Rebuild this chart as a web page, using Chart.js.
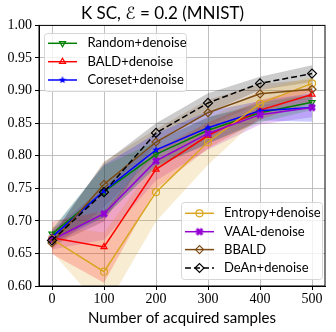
<!DOCTYPE html>
<html>
<head>
<meta charset="utf-8">
<script src="https://cdn.jsdelivr.net/npm/chart.js@4.4.1/dist/chart.umd.min.js"></script>
<style>
    html, body { margin: 0; padding: 0; background: #fff; }
</style>
</head>
<body>
<canvas id="chart" width="336" height="332"></canvas>
<script>
"use strict";

// DATA
const SAMPLES = [0, 100, 200, 300, 400, 500];
const Y_TICKS = [0.60, 0.65, 0.70, 0.75, 0.80, 0.85, 0.90, 0.95, 1.00];

const RANDOM_MEAN = [0.680, 0.745, 0.802, 0.839, 0.866, 0.882];
const RANDOM_STD = [0.008, 0.040, 0.020, 0.020, 0.015, 0.012];
const BALD_MEAN = [0.674, 0.660, 0.779, 0.831, 0.870, 0.894];
const BALD_STD = [0.025, 0.055, 0.030, 0.020, 0.015, 0.012];
const CORESET_MEAN = [0.675, 0.746, 0.809, 0.843, 0.869, 0.874];
const CORESET_STD = [0.010, 0.040, 0.025, 0.025, 0.015, 0.022];
const ENTROPY_MEAN = [0.672, 0.622, 0.744, 0.821, 0.880, 0.911];
const ENTROPY_STD = [0.020, 0.060, 0.045, 0.035, 0.020, 0.010];
const VAAL_MEAN = [0.671, 0.711, 0.792, 0.834, 0.863, 0.874];
const VAAL_STD = [0.015, 0.040, 0.030, 0.025, 0.015, 0.015];
const BBALD_MEAN = [0.666, 0.756, 0.821, 0.866, 0.895, 0.902];
const BBALD_STD = [0.010, 0.035, 0.020, 0.020, 0.015, 0.015];
const DEAN_MEAN = [0.670, 0.744, 0.835, 0.881, 0.911, 0.926];
const DEAN_STD = [0.008, 0.045, 0.015, 0.015, 0.010, 0.013];

const SANS = "Lato, 'DejaVu Sans', sans-serif";
const SERIF = "'Liberation Serif', 'DejaVu Serif', serif";

function rgba(rgb, a) {
    return `rgba(${rgb[0]},${rgb[1]},${rgb[2]},${a})`;
}

// small filled marker images (star / X) that Chart.js has no style for
function markerCanvas(kind, color, r) {
    const size = Math.ceil(r * 2 + 2);
    const c = document.createElement("canvas");
    c.width = size;
    c.height = size;
    const ctx = c.getContext("2d");
    const cx = size / 2;
    const cy = size / 2;
    ctx.fillStyle = color;
    ctx.beginPath();
    if (kind === "star") {
        for (let i = 0; i < 10; i++) {
            const rad = i % 2 === 0 ? r : r * 0.42;
            const a = -Math.PI / 2 + i * Math.PI / 5;
            ctx.lineTo(cx + rad * Math.cos(a), cy + rad * Math.sin(a));
        }
    }
    else {
        const w = r * 0.38;
        ctx.save();
        ctx.translate(cx, cy);
        ctx.rotate(Math.PI / 4);
        ctx.rect(-r, -w, 2 * r, 2 * w);
        ctx.rect(-w, -r, 2 * w, 2 * r);
        ctx.restore();
    }
    ctx.closePath();
    ctx.fill();
    return c;
}

const SERIES = [
    { label: "Random+denoise", mean: RANDOM_MEAN, std: RANDOM_STD, rgb: [0, 128, 0], style: "triangle", rotation: 180, radius: 3.5, open: true, legend: 0 },
    { label: "BALD+denoise", mean: BALD_MEAN, std: BALD_STD, rgb: [255, 0, 0], style: "triangle", rotation: 0, radius: 3.5, open: true, legend: 0 },
    { label: "Coreset+denoise", mean: CORESET_MEAN, std: CORESET_STD, rgb: [0, 0, 255], style: "star", radius: 4, open: false, legend: 0 },
    { label: "Entropy+denoise", mean: ENTROPY_MEAN, std: ENTROPY_STD, rgb: [218, 165, 32], style: "circle", radius: 3.5, open: true, legend: 1 },
    { label: "VAAL-denoise", mean: VAAL_MEAN, std: VAAL_STD, rgb: [148, 0, 211], style: "x", radius: 4, open: false, legend: 1 },
    { label: "BBALD", mean: BBALD_MEAN, std: BBALD_STD, rgb: [125, 75, 20], style: "rectRot", rotation: 0, radius: 4, open: true, legend: 1 },
    { label: "DeAn+denoise", mean: DEAN_MEAN, std: DEAN_STD, rgb: [0, 0, 0], style: "rectRot", rotation: 0, radius: 4.5, open: true, dash: [6, 3], legend: 1 }
];

for (const s of SERIES) {
    const col = rgba(s.rgb, 1);
    if (s.style === "star" || s.style === "x") {
        s.pointStyle = markerCanvas(s.style, col, s.radius);
    }
    else {
        s.pointStyle = s.style;
    }
}

const datasets = [];
SERIES.forEach((s, i) => {
    const lower = SAMPLES.map((x, k) => ({ x, y: s.mean[k] - s.std[k] }));
    const upper = SAMPLES.map((x, k) => ({ x, y: s.mean[k] + s.std[k] }));
    datasets.push({
        label: "_band_lo",
        data: lower,
        borderWidth: 0,
        pointRadius: 0,
        fill: false,
        order: 100
    });
    datasets.push({
        label: "_band_hi",
        data: upper,
        borderWidth: 0,
        pointRadius: 0,
        fill: "-1",
        backgroundColor: rgba(s.rgb, 0.2),
        order: 100
    });
});
SERIES.forEach((s, i) => {
    const col = rgba(s.rgb, 1);
    datasets.push({
        label: s.label,
        data: SAMPLES.map((x, k) => ({ x, y: s.mean[k] })),
        borderColor: col,
        backgroundColor: col,
        borderWidth: 1.5,
        borderDash: s.dash || [],
        pointStyle: s.pointStyle,
        rotation: s.rotation || 0,
        pointRadius: s.radius,
        pointBorderColor: col,
        pointBorderWidth: 1.2,
        pointBackgroundColor: s.open ? "rgba(0,0,0,0)" : col,
        fill: false,
        order: 10 - i
    });
});

function drawMarker(ctx, s, x, y) {
    const col = rgba(s.rgb, 1);
    if (typeof s.pointStyle !== "string") {
        const img = s.pointStyle;
        ctx.drawImage(img, x - img.width / 2, y - img.height / 2);
        return;
    }
    ctx.save();
    ctx.strokeStyle = col;
    ctx.fillStyle = s.open ? "rgba(0,0,0,0)" : col;
    ctx.lineWidth = 1.2;
    Chart.helpers.drawPoint(ctx, {
        pointStyle: s.pointStyle,
        rotation: s.rotation || 0,
        radius: s.radius,
        borderWidth: 1.2
    }, x, y);
    ctx.restore();
}

// two legend boxes, drawn by hand (Chart.js has one legend per chart)
const LEGEND_BOXES = [
    { x: 44, y: 33, w: 142, h: 58, lineX: 48, textX: 87.5, rows: [43.3, 61.7, 80] },
    { x: 181, y: 202, w: 141, h: 77, lineX: 185, textX: 224, rows: [213.3, 231.7, 249.6, 268] }
];

const legendPlugin = {
    id: "twoLegends",
    afterDraw(chart) {
        const ctx = chart.ctx;
        const area = chart.chartArea;

        // frame on all four sides
        ctx.save();
        ctx.strokeStyle = "#000";
        ctx.lineWidth = 1;
        ctx.strokeRect(area.left, area.top, area.right - area.left, area.bottom - area.top);
        ctx.restore();

        LEGEND_BOXES.forEach((box, b) => {
            ctx.save();
            ctx.fillStyle = "rgba(255,255,255,0.8)";
            ctx.strokeStyle = "#d6d6d6";
            ctx.lineWidth = 1;
            ctx.beginPath();
            ctx.roundRect(box.x + 0.5, box.y + 0.5, box.w, box.h, 3);
            ctx.fill();
            ctx.stroke();
            ctx.restore();

            const items = SERIES.filter((s) => s.legend === b);
            items.forEach((s, k) => {
                const y = box.rows[k];
                ctx.save();
                ctx.strokeStyle = rgba(s.rgb, 1);
                ctx.lineWidth = 1.5;
                ctx.setLineDash(s.dash || []);
                ctx.beginPath();
                ctx.moveTo(box.lineX, y);
                ctx.lineTo(box.lineX + 29, y);
                ctx.stroke();
                ctx.restore();
                drawMarker(ctx, s, box.lineX + 14.5, y);

                ctx.save();
                ctx.fillStyle = "#000";
                ctx.font = `13px ${SANS}`;
                ctx.textBaseline = "middle";
                ctx.fillText(s.label, box.textX, y);
                ctx.restore();
            });
        });
    }
};

const chart = new Chart(document.getElementById("chart"), {
    type: "line",
    data: { datasets },
    plugins: [legendPlugin],
    options: {
        responsive: false,
        animation: false,
        layout: { padding: { left: 0, right: 11, top: 0, bottom: 0 } },
        plugins: {
            legend: { display: false },
            tooltip: { enabled: false },
            title: {
                display: true,
                text: "K SC, \u2130 = 0.2 (MNIST)",
                color: "#000",
                font: { family: SANS, size: 17, weight: "normal" },
                padding: { top: 3, bottom: 2 }
            }
        },
        scales: {
            x: {
                type: "linear",
                min: -25,
                max: 525,
                afterBuildTicks: (scale) => {
                    scale.ticks = SAMPLES.map((v) => ({ value: v }));
                },
                afterFit: (scale) => {
                    scale.height = 46;
                },
                ticks: {
                    color: "#000",
                    font: { family: SERIF, size: 14 },
                    padding: 1,
                    maxRotation: 0,
                    callback: (v) => String(v)
                },
                grid: { color: "rgba(176,176,176,0.8)", lineWidth: 1, tickLength: 4, tickColor: "#000" },
                border: { color: "#000", width: 1 },
                title: {
                    display: true,
                    text: "Number of acquired samples",
                    color: "#000",
                    font: { family: SANS, size: 15 },
                    padding: { top: 0, bottom: 5 }
                }
            },
            y: {
                type: "linear",
                min: 0.6,
                max: 1.0,
                afterBuildTicks: (scale) => {
                    scale.ticks = Y_TICKS.map((v) => ({ value: v }));
                },
                afterFit: (scale) => {
                    scale.width = 39;
                },
                ticks: {
                    color: "#000",
                    font: { family: SERIF, size: 14 },
                    padding: 3,
                    callback: (v) => Number(v).toFixed(2)
                },
                grid: { color: "rgba(176,176,176,0.8)", lineWidth: 1, tickLength: 4, tickColor: "#000" },
                border: { color: "#000", width: 1 }
            }
        }
    }
});
</script>
</body>
</html>
